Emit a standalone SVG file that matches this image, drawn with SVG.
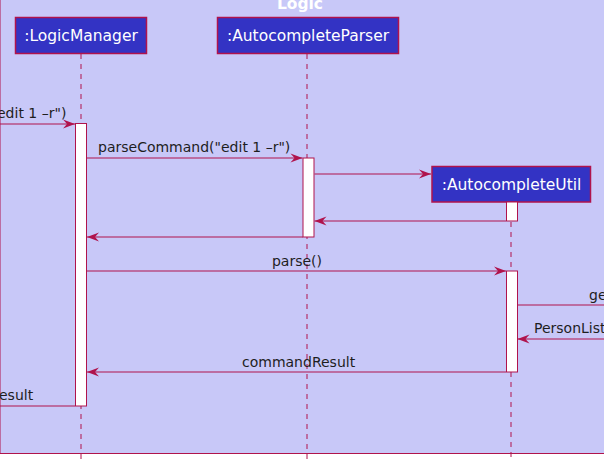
<svg xmlns="http://www.w3.org/2000/svg" width="604" height="459" viewBox="0 0 604 459">
<defs>
<style>
.lbl{font-family:"DejaVu Sans",sans-serif;font-size:14px;fill:#1e1e1e}
.nlbl{font-family:"DejaVu Sans",sans-serif;font-size:15.5px;fill:#ffffff;text-anchor:middle}
.box{fill:#3333C4;stroke:#B0134C;stroke-width:1.5}
.life{stroke:#B0134C;stroke-width:1;stroke-dasharray:5,5;fill:none}
.act{fill:#ffffff;stroke:#B0134C;stroke-width:1}
.msg{stroke:#B0134C;stroke-width:1;fill:none}
</style>
<marker id="ah" viewBox="-13 -5 14 10" refX="0" refY="0" markerWidth="14" markerHeight="10" markerUnits="userSpaceOnUse" orient="auto">
<path d="M0,0 L-12,-4.5 L-8,0 L-12,4.5 Z" fill="#B0134C"/>
</marker>
</defs>
<rect x="0" y="0" width="604" height="459" fill="#ffffff"/>
<g id="frame">
<rect x="0" y="-20" width="640" height="473.5" fill="#C8C8F8" stroke="#B0134C" stroke-width="1"/>
<text x="300" y="9" style="font-family:'DejaVu Sans',sans-serif;font-size:15.5px;font-weight:bold;fill:#ffffff;text-anchor:middle">Logic</text>
</g>
<g id="lifelines">
<line class="life" x1="81" y1="54" x2="81" y2="459"/>
<line class="life" x1="307" y1="54" x2="307" y2="459"/>
<line class="life" x1="511" y1="202" x2="511" y2="459"/>
</g>
<g id="LogicManager">
<rect class="box" x="15.5" y="17.5" width="131" height="36"/>
<text class="nlbl" x="81" y="41">:LogicManager</text>
<rect class="act" x="75.5" y="123.5" width="11" height="282.5"/>
</g>
<g id="AutocompleteParser">
<rect class="box" x="217.5" y="17.5" width="181" height="36"/>
<text class="nlbl" x="308" y="41">:AutocompleteParser</text>
<rect class="act" x="303" y="158" width="11" height="79"/>
</g>
<g id="AutocompleteUtil">
<rect class="box" x="432" y="166.5" width="158.5" height="35.5"/>
<text class="nlbl" x="511.5" y="190">:AutocompleteUtil</text>
<rect class="act" x="506.5" y="202" width="11" height="19"/>
<rect class="act" x="506.5" y="271" width="11" height="101"/>
</g>
<g id="connectors">
<line class="msg" x1="-5" y1="124" x2="75" y2="124" marker-end="url(#ah)"/>
<text class="lbl" x="-3" y="118">edit 1 –r")</text>
<line class="msg" x1="87" y1="158" x2="302.5" y2="158" marker-end="url(#ah)"/>
<text class="lbl" x="98" y="152">parseCommand("edit 1 –r")</text>
<line class="msg" x1="314.5" y1="174" x2="431" y2="174" marker-end="url(#ah)"/>
<line class="msg" x1="506" y1="221" x2="314.5" y2="221" marker-end="url(#ah)"/>
<line class="msg" x1="303" y1="237" x2="87" y2="237" marker-end="url(#ah)"/>
<line class="msg" x1="87" y1="271" x2="506" y2="271" marker-end="url(#ah)"/>
<text class="lbl" x="297" y="266" text-anchor="middle">parse()</text>
<line class="msg" x1="517.5" y1="305" x2="610" y2="305"/>
<text class="lbl" x="589" y="300">ge</text>
<line class="msg" x1="610" y1="339" x2="517.5" y2="339" marker-end="url(#ah)"/>
<text class="lbl" x="534" y="333">PersonList</text>
<line class="msg" x1="506" y1="372" x2="87" y2="372" marker-end="url(#ah)"/>
<text class="lbl" x="242" y="367">commandResult</text>
<line class="msg" x1="75" y1="406" x2="-5" y2="406"/>
<text class="lbl" x="-1" y="400">esult</text>
</g>
</svg>
